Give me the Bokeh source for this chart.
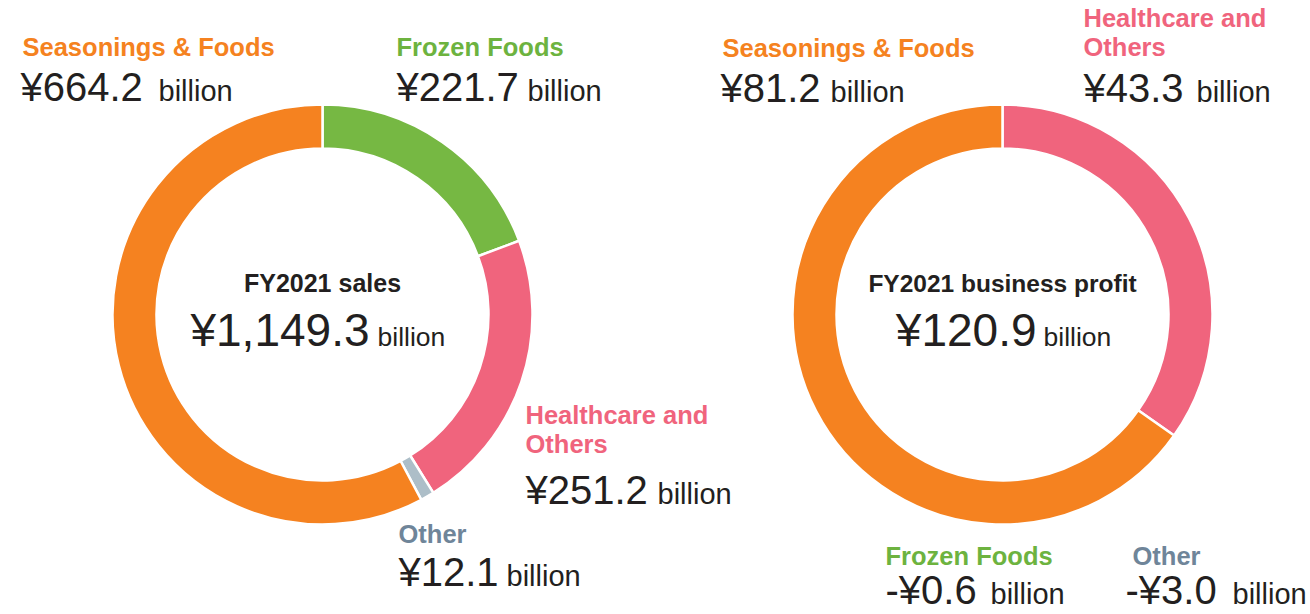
import math
from bokeh.plotting import figure
from bokeh.models import Range1d
from bokeh.core.properties import value
from bokeh.embed import file_html
from bokeh.resources import INLINE

# ---------------- data ----------------
sales_segments = ["Frozen Foods", "Healthcare and Others", "Other", "Seasonings & Foods"]
sales_values = [221.7, 251.2, 12.1, 664.2]
sales_total = 1149.3

profit_segments = ["Healthcare and Others", "Seasonings & Foods"]
profit_values = [43.3, 81.2]
profit_total = 120.9
profit_negative_segments = ["Frozen Foods", "Other"]
profit_negative_values = [-0.6, -3.0]

COL = {
    "Seasonings & Foods": "#F58220",
    "Frozen Foods": "#76B843",
    "Healthcare and Others": "#F0647D",
    "Other": "#ADBEC8",
}
LABEL_COL = {
    "Seasonings & Foods": "#F58220",
    "Frozen Foods": "#6DB33F",
    "Healthcare and Others": "#F0647D",
    "Other": "#6F8599",
}
DARK = "#231F20"
FONT = "Liberation Sans"

W, H = 1310, 614
BASE_SHIFT = 0.38  # empirical baseline correction (em)


def Y(screen_y):
    return H - screen_y


p = figure(width=W, height=H, output_backend="svg", toolbar_location=None,
           x_range=Range1d(0, W), y_range=Range1d(0, H),
           min_border=0, outline_line_color=None)
p.axis.visible = False
p.grid.visible = False
p.background_fill_color = "white"


def donut(cx, cy, names, vals):
    tot = sum(vals)
    cum = 0.0
    starts, ends, cols = [], [], []
    for n, v in zip(names, vals):
        a0 = math.pi / 2 - 2 * math.pi * cum / tot
        cum += v
        a1 = math.pi / 2 - 2 * math.pi * cum / tot
        starts.append(a1)
        ends.append(a0)
        cols.append(COL[n])
    p.annular_wedge(x=[cx] * len(vals), y=[Y(cy)] * len(vals),
                    inner_radius=166, outer_radius=210,
                    inner_radius_units="screen", outer_radius_units="screen",
                    start_angle=starts, end_angle=ends, direction="anticlock",
                    fill_color=cols, line_color="white", line_width=2.5)


donut(322, 314, sales_segments, sales_values)
donut(1002, 314, profit_segments, profit_values)


def txt(x, y, s, size, color=DARK, bold=False, align="left", font=FONT):
    p.text(x=[x], y=[Y(y - BASE_SHIFT * size)], text=[s], text_font=value(font),
           text_font_size=f"{size}px", text_color=color,
           text_font_style="bold" if bold else "normal",
           text_align=align, text_baseline="alphabetic")


def fmt(v):
    if v < 0:
        return f"-¥{abs(v):,.1f}"
    return f"¥{v:,.1f}"


def seg_label(name, v, x, y_label, y_val, x_billion, xv=None):
    lines = ["Healthcare and", "Others"] if name == "Healthcare and Others" else [name]
    for i, ln in enumerate(lines):
        txt(x, y_label - 29 * (len(lines) - 1 - i), ln, 25.5, LABEL_COL[name], bold=True)
    txt(x if xv is None else xv, y_val, fmt(v), 40)
    txt(x_billion, y_val, "billion", 29)


sv = dict(zip(sales_segments, sales_values))
seg_label("Seasonings & Foods", sv["Seasonings & Foods"], 22, 56, 102, 158, xv=20)
seg_label("Frozen Foods", sv["Frozen Foods"], 396, 56, 102, 527)
seg_label("Healthcare and Others", sv["Healthcare and Others"], 525, 453, 505, 657)
seg_label("Other", sv["Other"], 398, 543, 587, 506)

pv = dict(zip(profit_segments, profit_values))
nv = dict(zip(profit_negative_segments, profit_negative_values))
seg_label("Seasonings & Foods", pv["Seasonings & Foods"], 722, 57, 103, 830, xv=720)
seg_label("Healthcare and Others", pv["Healthcare and Others"], 1083, 56, 103, 1196)
seg_label("Frozen Foods", nv["Frozen Foods"], 885, 565, 605, 990)
seg_label("Other", nv["Other"], 1132, 565, 605, 1232, xv=1125)

# centre texts
txt(322, 292, "FY2021 sales", 25, bold=True, align="center")
txt(369, 347, fmt(sales_total), 46, align="right")
txt(377, 347, "billion", 26.5)

txt(1002, 292, "FY2021 business profit", 24.5, bold=True, align="center")
txt(1036, 347, fmt(profit_total), 46, align="right")
txt(1043, 347, "billion", 26.5)

open("out.html", "w").write(file_html(p, INLINE))
